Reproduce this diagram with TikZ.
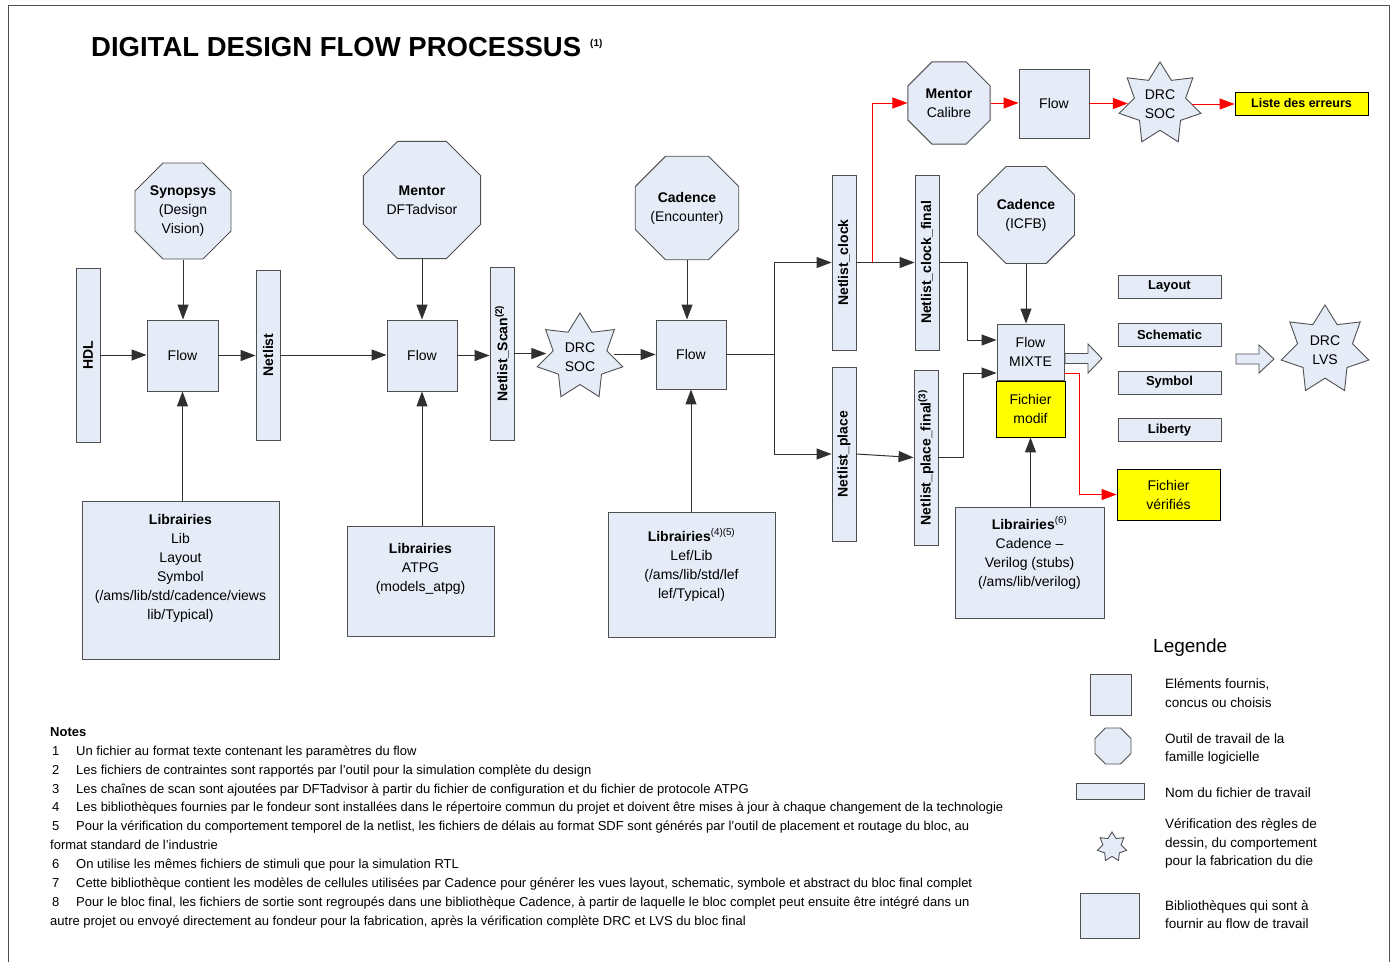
\documentclass[tikz,border=0pt]{standalone}
\usepackage{fontspec}
\setmainfont{Liberation Sans}
\usetikzlibrary{shapes.geometric,arrows.meta,calc}
\definecolor{boxfill}{HTML}{E6ECF7}
\definecolor{boxline}{HTML}{505050}
\definecolor{linecol}{HTML}{303030}
\definecolor{hilite}{HTML}{FFFF00}
\begin{document}
\begin{tikzpicture}[x=1pt,y=-1pt,
  every node/.style={font=\fontsize{14}{19}\selectfont},
  base/.style={draw=boxline,fill=boxfill,line width=0.9pt,inner sep=0pt,align=center},
  oct/.style={base,regular polygon,regular polygon sides=8,minimum size=#1},
  sevenstar/.style={base,star,star points=7,star point ratio=1.6,minimum size=#1},
  hl/.style={draw=black,fill=hilite,line width=0.9pt,inner sep=0pt,align=center},
  conn/.style={draw=linecol,line width=1pt,-{Triangle[length=15pt,width=11pt]}},
  redconn/.style={draw=red,line width=1pt,-{Triangle[length=15pt,width=11pt]}},
  plain/.style={draw=linecol,line width=1pt},
  lbl/.style={inner sep=1pt,align=center},
  vlbl/.style={inner sep=0pt,rotate=90,font=\fontsize{14}{16}\selectfont\bfseries},
  stk/.style={base,minimum width=103pt,minimum height=23pt,font=\fontsize{13}{15}\selectfont\bfseries},
  note/.style={anchor=base west,inner sep=0pt,font=\fontsize{13}{15}\selectfont},
  leg/.style={anchor=base west,inner sep=0pt,font=\fontsize{13.5}{16}\selectfont}
]
\useasboundingbox (0,0) rectangle (1391,962);
% frame
\draw[boxline,line width=0.8pt] (8.5,962) -- (8.5,5.5) -- (1389,5.5) -- (1389,962);

% title
\node[anchor=base west,inner sep=0pt,font=\fontsize{27.5}{30}\selectfont\bfseries] (title) at (91,56) {DIGITAL DESIGN FLOW PROCESSUS};
\node[anchor=base west,inner sep=0pt,font=\fontsize{10}{12}\selectfont\bfseries] (titlesup) at (590,46) {(1)};

% ---- stage 1
\node[base,minimum width=24pt,minimum height=174pt] (hdl) at (88,355) {};
\node[vlbl] at (hdl) {HDL};
\node[base,minimum width=71pt,minimum height=71pt] (flow1) at (182.5,355.5) {Flow};
\node[oct=104pt] (oct1) at (183,211) {\textbf{Synopsys}\\(Design\\Vision)};
\node[base,minimum width=24pt,minimum height=170pt] (netlist) at (268,355) {};
\node[vlbl] at (netlist) {Netlist};
\node[base,minimum width=197pt,minimum height=158pt] (lib1) at (180.5,580) {};
\node[lbl,anchor=north] at ($(lib1.north)+(0,13)$) {\textbf{Librairies}\\Lib\\Layout\\Symbol\\(/ams/lib/std/cadence/views\\lib/Typical)};

% ---- stage 2
\node[base,minimum width=70pt,minimum height=71pt] (flow2) at (422,355.5) {Flow};
\node[oct=127pt] (oct2) at (422,200) {\textbf{Mentor}\\DFTadvisor};
\node[base,minimum width=147pt,minimum height=110pt] (lib2) at (420.5,581) {};
\node[lbl,anchor=north] at ($(lib2.north)+(0,17)$) {\textbf{Librairies}\\ATPG\\(models\_atpg)};
\node[base,minimum width=24pt,minimum height=173pt] (scan) at (502,353.5) {};
\node[vlbl] at (scan) {Netlist\_Scan\textsuperscript{(2)}};
\node[sevenstar=88pt] (star1) at (580,357) {DRC\\SOC};

% ---- stage 3
\node[base,minimum width=70pt,minimum height=69pt] (flow3) at (691,354.5) {Flow};
\node[oct=110pt] (oct3) at (687,208) {\textbf{Cadence}\\(Encounter)};
\node[base,minimum width=167pt,minimum height=125pt] (lib3) at (691.5,574.5) {};
\node[lbl,anchor=north] at ($(lib3.north)+(0,16)$) {\textbf{Librairies}\textsuperscript{(4)(5)}\\Lef/Lib\\(/ams/lib/std/lef\\lef/Typical)};

\node[base,minimum width=24pt,minimum height=175pt] (A) at (844,262.5) {};
\node[vlbl] at (A) {Netlist\_clock};
\node[base,minimum width=24pt,minimum height=175pt] (B) at (927,262.5) {};
\node[vlbl] at (B) {Netlist\_clock\_final};
\node[base,minimum width=24pt,minimum height=174pt] (C) at (844,454) {};
\node[vlbl] at (C) {Netlist\_place};
\node[base,minimum width=24pt,minimum height=175pt] (D) at (926,457.5) {};
\node[vlbl] at (D) {Netlist\_place\_final\textsuperscript{(3)}};

% ---- top red branch
\node[oct=89pt] (oct4) at (949,103) {\textbf{Mentor}\\Calibre};
\node[base,minimum width=70pt,minimum height=69pt] (flowT) at (1054,103.5) {Flow};
\node[sevenstar=84pt] (starT) at (1160,104) {DRC\\SOC};
\node[hl,minimum width=133pt,minimum height=23pt,font=\fontsize{12.5}{14}\selectfont\bfseries] (yellowT) at (1301.5,103.5) {Liste des erreurs};

% ---- stage 4
\node[oct=105pt] (oct5) at (1026,215) {\textbf{Cadence}\\(ICFB)};
\node[base,minimum width=67pt,minimum height=56pt] (flow4) at (1030.5,352) {Flow\\MIXTE};
\node[hl,minimum width=69pt,minimum height=56pt] (yel1) at (1030.5,409) {Fichier\\modif};
\node[hl,minimum width=103pt,minimum height=51pt] (yel2) at (1168.5,494.5) {Fichier\\vérifiés};
\node[base,minimum width=149pt,minimum height=111pt] (lib4) at (1029.5,562.5) {};
\node[lbl,anchor=north] at ($(lib4.north)+(0,9)$) {\textbf{Librairies}\textsuperscript{(6)}\\Cadence --\\Verilog (stubs)\\(/ams/lib/verilog)};

\node[stk] (layout) at (1169.5,286.5) {Layout};
\node[stk] (schem) at (1169.5,334.5) {Schematic};
\node[stk] (symb) at (1169.5,382.5) {Symbol};
\node[stk] (liber) at (1169.5,430) {Liberty};
\node[sevenstar=90pt] (starR) at (1325,350) {DRC\\LVS};

% block arrows
\draw[base] (1065,353.5) -- (1088,353.5) -- (1088,344) -- (1102,358.5) -- (1088,373) -- (1088,363.5) -- (1065,363.5) -- cycle;
\draw[base] (1236,354) -- (1259,354) -- (1259,345) -- (1274,359) -- (1259,373) -- (1259,364) -- (1236,364) -- cycle;

% ---- connectors
\draw[conn] (hdl.east) -- (hdl.east -| flow1.west);
\draw[conn] (flow1.east) -- (flow1.east -| netlist.west);
\draw[conn] (oct1.south) -- (oct1.south |- flow1.north);
\draw[conn] (lib1.north -| flow1) -- (flow1.south);
\draw[conn] (netlist.east) -- (netlist.east -| flow2.west);
\draw[conn] (oct2.south) -- (oct2.south |- flow2.north);
\draw[conn] (lib2.north -| flow2) -- (flow2.south);
\draw[conn] (flow2.east) -- (flow2.east -| scan.west);
\draw[conn] (scan.east) -- (scan.east -| star1.west);
\draw[conn] (star1.east |- flow3) -- (flow3.west);
\draw[conn] (oct3.south) -- (oct3.south |- flow3.north);
\draw[conn] (lib3.north -| flow3) -- (flow3.south);
\path (flow3.east) ++(48,0) coordinate (split);
\draw[plain] (flow3.east) -- (split);
\draw[conn] (split) |- (A.west);
\draw[conn] (split) |- (C.west);
\draw[conn] (A.east) -- (B.west);
\path (A.east) ++(16,0) coordinate (rtap);
\draw[redconn] (rtap) |- (oct4.west);
\draw[redconn] (oct4.east) -- (oct4.east -| flowT.west);
\draw[redconn] (flowT.east) -- (flowT.east -| starT.west);
\draw[redconn] (starT.east) -- (starT.east -| yellowT.west);
\draw[conn] (B.east) -- ++(28,0) |- ($(flow4.west)+(0,-12)$);
\draw[conn] (C.east) -- (D.west);
\draw[conn] (D.east) -- ++(25,0) |- ($(flow4.west)+(0,21)$);
\draw[conn] (oct5.south) -- (oct5.south |- flow4.north);
\draw[conn] (lib4.north -| yel1) -- (yel1.south);
\draw[redconn] ($(flow4.east)+(0,21)$) -- ++(15,0) |- (yel2.west);

% ---- legend
\node[anchor=base west,inner sep=0pt,font=\fontsize{19}{22}\selectfont] (legt) at (1153,652) {Legende};
\node[base,minimum width=41pt,minimum height=41pt] (lsq1) at (1110.5,694.5) {};
\node[leg] at (1165,688) {Eléments fournis,};
\node[leg] at (1165,707) {concus ou choisis};
\node[oct=39pt] (loct) at (1113,746) {};
\node[leg] at (1165,743) {Outil de travail de la};
\node[leg] at (1165,761) {famille logicielle};
\node[base,minimum width=68pt,minimum height=16pt] (lrect) at (1110,791) {};
\node[leg] at (1165,797) {Nom du fichier de travail};
\node[sevenstar=30pt] (lstar) at (1112,847) {};
\node[leg] at (1165,828) {Vérification des règles de};
\node[leg] at (1165,847) {dessin, du comportement};
\node[leg] at (1165,865) {pour la fabrication du die};
\node[base,minimum width=59pt,minimum height=45pt] (lsq2) at (1109.5,915.5) {};
\node[leg] at (1165,910) {Bibliothèques qui sont à};
\node[leg] at (1165,928) {fournir au flow de travail};

% ---- notes
\node[note,font=\fontsize{13}{15}\selectfont\bfseries] at (50,736) {Notes};
\node[note] at (52,755) {1};
\node[note] at (76,755) {Un fichier au format texte contenant les paramètres du flow};
\node[note] at (52,774) {2};
\node[note] at (76,774) {Les fichiers de contraintes sont rapportés par l'outil pour la simulation complète du design};
\node[note] at (52,793) {3};
\node[note] at (76,793) {Les chaînes de scan sont ajoutées par DFTadvisor à partir du fichier de configuration et du fichier de protocole ATPG};
\node[note] at (52,811) {4};
\node[note] at (76,811) {Les bibliothèques fournies par le fondeur sont installées dans le répertoire commun du projet et doivent être mises à jour à chaque changement de la technologie};
\node[note] at (52,830) {5};
\node[note] at (76,830) {Pour la vérification du comportement temporel de la netlist, les fichiers de délais au format SDF sont générés par l'outil de placement et routage du bloc, au};
\node[note] at (50,849) {format standard de l'industrie};
\node[note] at (52,868) {6};
\node[note] at (76,868) {On utilise les mêmes fichiers de stimuli que pour la simulation RTL};
\node[note] at (52,887) {7};
\node[note] at (76,887) {Cette bibliothèque contient les modèles de cellules utilisées par Cadence pour générer les vues layout, schematic, symbole et abstract du bloc final complet};
\node[note] at (52,906) {8};
\node[note] at (76,906) {Pour le bloc final, les fichiers de sortie sont regroupés dans une bibliothèque Cadence, à partir de laquelle le bloc complet peut ensuite être intégré dans un};
\node[note] at (50,925) {autre projet ou envoyé directement au fondeur pour la fabrication, après la vérification complète DRC et LVS du bloc final};
\end{tikzpicture}
\end{document}
